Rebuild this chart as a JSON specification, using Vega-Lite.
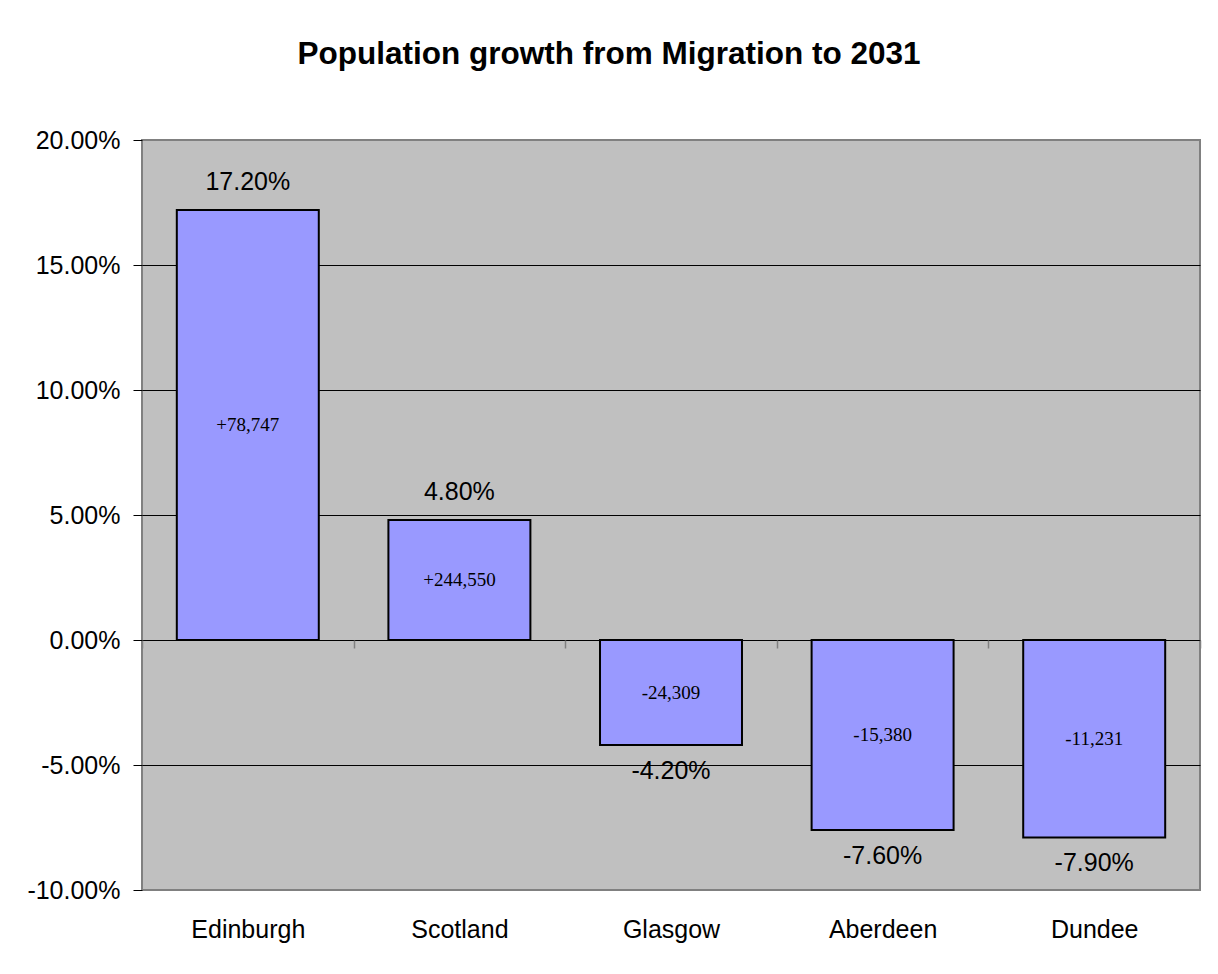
{
  "$schema": "https://vega.github.io/schema/vega-lite/v6.json",
  "width": 1058,
  "height": 750,
  "autosize": {"type": "none"},
  "padding": {"left": 142, "top": 140, "right": 18, "bottom": 84},
  "background": "white",
  "title": {
    "text": "Population growth from Migration to 2031",
    "font": "Liberation Sans",
    "fontSize": 31.5,
    "fontWeight": "bold",
    "color": "black",
    "anchor": "middle",
    "frame": "group",
    "baseline": "alphabetic",
    "offset": 33,
    "dx": -62
  },
  "data": {
    "values": [
      {"region": "Edinburgh", "pct": 0.172, "label": "+78,747"},
      {"region": "Scotland", "pct": 0.048, "label": "+244,550"},
      {"region": "Glasgow", "pct": -0.042, "label": "-24,309"},
      {"region": "Aberdeen", "pct": -0.076, "label": "-15,380"},
      {"region": "Dundee", "pct": -0.079, "label": "-11,231"}
    ]
  },
  "encoding": {
    "x": {
      "field": "region",
      "type": "nominal",
      "sort": null,
      "scale": {"paddingInner": 0, "paddingOuter": 0},
      "axis": {
        "title": null,
        "orient": "bottom",
        "offset": -250,
        "domain": false,
        "ticks": true,
        "tickBand": "extent",
        "tickSize": 8,
        "tickColor": "#808080",
        "tickWidth": 1.5,
        "labelPadding": 269,
        "labelAngle": 0,
        "labelFont": "Liberation Sans",
        "labelFontSize": 25,
        "labelColor": "black",
        "grid": false
      }
    }
  },
  "layer": [
    {
      "layer": [
        {
          "mark": {"type": "bar", "width": {"band": 0.671}, "fill": "#9999FF", "stroke": "black", "strokeWidth": 2},
          "encoding": {
            "y": {
              "field": "pct",
              "type": "quantitative",
              "scale": {"domain": [-0.1, 0.2], "nice": false, "zero": true},
              "axis": {
                "title": null,
                "values": [-0.1, -0.05, 0, 0.05, 0.1, 0.15, 0.2],
                "format": ".2%",
                "domain": false,
                "ticks": true,
                "tickSize": 9,
                "tickColor": "black",
                "tickWidth": 1,
                "labelPadding": 13,
                "labelFont": "Liberation Sans",
                "labelFontSize": 25,
                "labelColor": "black",
                "grid": true,
                "gridColor": "black",
                "gridWidth": 1,
                "gridOpacity": {"condition": {"test": "datum.value <= -0.099 || datum.value >= 0.199", "value": 0}, "value": 1}
              }
            }
          }
        },
        {
          "transform": [{"filter": "datum.pct > 0"}],
          "mark": {"type": "text", "font": "Liberation Sans", "fontSize": 25, "color": "black", "align": "center", "baseline": "alphabetic", "dy": -20},
          "encoding": {
            "y": {"field": "pct", "type": "quantitative"},
            "text": {"field": "pct", "type": "quantitative", "format": ".2%"}
          }
        },
        {
          "transform": [{"filter": "datum.pct < 0"}],
          "mark": {"type": "text", "font": "Liberation Sans", "fontSize": 25, "color": "black", "align": "center", "baseline": "alphabetic", "dy": 33.5},
          "encoding": {
            "y": {"field": "pct", "type": "quantitative"},
            "text": {"field": "pct", "type": "quantitative", "format": ".2%"}
          }
        }
      ]
    },
    {
      "mark": {"type": "text", "font": "Liberation Serif", "fontSize": 19, "color": "black", "align": "center", "baseline": "middle"},
      "encoding": {
        "y": {"field": "pct", "type": "quantitative", "scale": {"domain": [-0.2, 0.4], "nice": false, "zero": false}, "axis": null},
        "text": {"field": "label", "type": "nominal"}
      }
    }
  ],
  "resolve": {"scale": {"y": "independent"}},
  "config": {
    "view": {"fill": "#C0C0C0", "stroke": "#808080", "strokeWidth": 2},
    "locale": {
      "number": {"decimal": ".", "thousands": ",", "grouping": [3], "currency": ["$", ""], "minus": "-"}
    }
  }
}
